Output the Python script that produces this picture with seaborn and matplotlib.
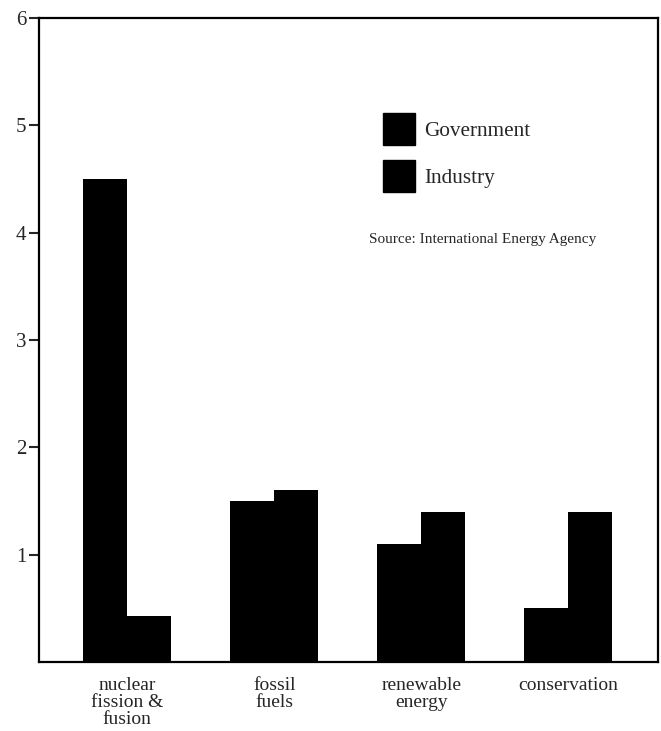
import matplotlib
matplotlib.use("Agg")
import matplotlib.pyplot as plt
import seaborn as sns
import pandas as pd
from matplotlib.patches import Patch

categories = ["nuclear\nfission &\nfusion", "fossil\nfuels", "renewable\nenergy", "conservation"]
government = [4.5, 1.5, 1.1, 0.5]
industry = [0.43, 1.6, 1.4, 1.4]
series = ["Government", "Industry"]
yticks = [1, 2, 3, 4, 5, 6]

df = pd.DataFrame({
    "category": categories * 2,
    "value": government + industry,
    "series": [series[0]] * len(categories) + [series[1]] * len(categories),
})

sns.set_style("white")
plt.rcParams["font.family"] = ["Liberation Serif", "DejaVu Serif"]

fig = plt.figure(figsize=(6.61, 7.31), dpi=100)
ax = fig.add_axes([0.059, 0.0944, 0.9365, 0.881])

sns.barplot(data=df, x="category", y="value", hue="series", order=categories,
            hue_order=series, palette={"Government": "black", "Industry": "black"},
            width=0.6, gap=0, saturation=1, edgecolor="black", linewidth=0,
            legend=False, ax=ax)

ax.set_xlim(-0.6, 3.61)
ax.set_ylim(0, 6)
ax.set_yticks(yticks)
ax.set_yticklabels([str(t) for t in yticks], fontsize=15)
ax.set_xlabel("")
ax.set_ylabel("")
ax.tick_params(axis="y", direction="out", length=7, width=1.5, left=True, pad=2)
ax.tick_params(axis="x", length=0, pad=11)
for lab in ax.get_xticklabels():
    lab.set_fontsize(14)
    lab.set_linespacing(1.0)
for s in ax.spines.values():
    s.set_visible(True)
    s.set_color("black")
    s.set_linewidth(1.6)

handles = [Patch(facecolor="black", edgecolor="black"), Patch(facecolor="black", edgecolor="black")]
ax.legend(handles, series, loc="upper left", bbox_to_anchor=(0.556, 0.853),
          frameon=False, fontsize=15.3, handlelength=1.5, handleheight=2.0,
          labelspacing=0.66, handletextpad=0.45, borderaxespad=0, borderpad=0)

fig.text(0.558, 0.672, "Source: International Energy Agency", fontsize=11, va="center", ha="left")

fig.savefig("out.png", dpi=100, facecolor="white")
